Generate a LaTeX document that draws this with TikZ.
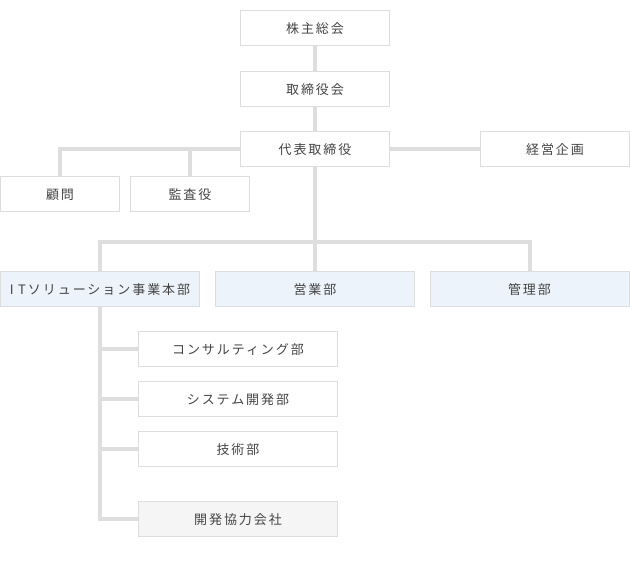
\documentclass[tikz,border=0pt]{standalone}
\usepackage{fontspec}
\newfontfamily\jp[LetterSpace=15]{Noto Sans CJK JP}
\usetikzlibrary{backgrounds}
\definecolor{bordergray}{HTML}{DDDDDD}
\definecolor{linegray}{HTML}{DEDEDE}
\definecolor{textgray}{HTML}{444444}
\definecolor{bluefill}{HTML}{EDF3FA}
\definecolor{grayfill}{HTML}{F5F5F5}
\tikzset{
  box/.style={draw=bordergray, line width=1pt, fill=white, inner sep=0pt,
    minimum height=35pt, anchor=north west, text=textgray,
    font=\jp\fontsize{13}{13}\selectfont},
  w150/.style={minimum width=149pt},
  w120/.style={minimum width=119pt},
  w200/.style={minimum width=199pt},
  conn/.style={draw=linegray, line width=4pt, line cap=rect}
}
\begin{document}
\begin{tikzpicture}[x=1pt,y=-1pt]
\useasboundingbox (0,0) rectangle (630,577);
\node[box,w150] (kabu) at (240,10.5) {株主総会};
\node[box,w150] (tori) at (240,71.5) {取締役会};
\node[box,w150] (dai) at (240,131.5) {代表取締役};
\node[box,w150] (keiei) at (480,131.5) {経営企画};
\node[box,w120] (komon) at (0,176.5) {顧問};
\node[box,w120] (kansa) at (130,176.5) {監査役};
\node[box,w200,fill=bluefill] (it) at (0,271.5) {I\hspace{4.5pt}T\hspace{2pt}ソリューション事業本部};
\node[box,w200,fill=bluefill] (eigyo) at (215,271.5) {営業部};
\node[box,w200,fill=bluefill] (kanri) at (429.5,271.5) {管理部};
\node[box,w200] (con) at (138,331.5) {コンサルティング部};
\node[box,w200] (sys) at (138,381.5) {システム開発部};
\node[box,w200] (gij) at (138,431.5) {技術部};
\node[box,w200,fill=grayfill] (kyo) at (138,501.5) {開発協力会社};
\coordinate (j) at (dai.south |- 0,242);
\begin{scope}[on background layer]
\draw[conn] (kabu.south) -- (tori.north);
\draw[conn] (tori.south) -- (dai.north);
\draw[conn] (dai.west) -| (komon.north);
\draw[conn] (dai.west) -| (kansa.north);
\draw[conn] (dai.east) -- (keiei.west);
\draw[conn] (dai.south) -- (j);
\draw[conn] (j) -| (it.north);
\draw[conn] (j) -| (kanri.north);
\draw[conn] (j) -- (eigyo.north);
\draw[conn] (it.south) |- (con.west);
\draw[conn] (it.south) |- (sys.west);
\draw[conn] (it.south) |- (gij.west);
\draw[conn] (it.south) |- (kyo.west);
\end{scope}
\end{tikzpicture}
\end{document}
